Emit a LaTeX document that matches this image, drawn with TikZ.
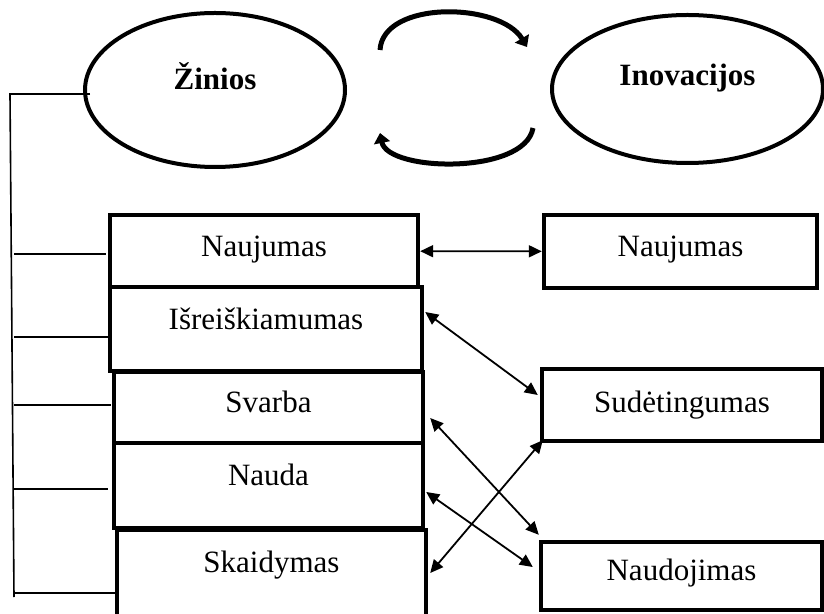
\documentclass[tikz,border=0pt]{standalone}
\usepackage{fontspec}
\setmainfont{Liberation Serif}
\usetikzlibrary{shapes.geometric, arrows.meta, positioning}

\begin{document}
\begin{tikzpicture}[
    x=0.5pt, y=-0.5pt,
    oval/.style = {ellipse, draw, line width=2pt, inner sep=0pt, text height=10pt, font = \fontsize{15.5}{18}\selectfont\bfseries},
    leftbox/.style = {rectangle, draw, line width=2.2pt, inner sep=0pt, minimum width=154.5pt, text height=10pt, font = \fontsize{15.5}{18}\selectfont},
    rightbox/.style = {leftbox, minimum width=140pt},
    link/.style = {line width=0.9pt, {Triangle[length=6.5pt,width=6pt]}-{Triangle[length=6.5pt,width=6pt]}},
    turn/.style = {line width=2.5pt, -{Triangle[length=5pt,width=8pt]}},
    branch/.style = {line width=0.8pt}]

    \useasboundingbox (0,0) rectangle (824,614);

    \node[oval, minimum width=130pt, minimum height=77pt, text depth=10pt] (zin) at (215,90) {Žinios};
    \node[oval, minimum width=135.5pt, minimum height=74pt, text depth=13pt] (inov) at (687.5,89) {Inovacijos};

    % cycle between the two ovals
    \coordinate (ctl) at (380,50);
    \coordinate (ctr) at (527,47);
    \coordinate (cbr) at (533,128);
    \coordinate (cbl) at (380,133);
    \draw[turn] (ctl) .. controls (383,0) and (500,2) .. (ctr);
    \draw[turn] (cbr) .. controls (525,175) and (388,172) .. (cbl);

    \node[leftbox, minimum width=154pt, minimum height=36pt, text depth=4pt] (lnauj) at (264,251) {Naujumas};
    \node[leftbox, minimum width=156pt, minimum height=42pt, text depth=9pt] (isr) at (266,329) {Išreiškiamumas};
    \node[leftbox, minimum height=35.5pt, text depth=4.5pt] (svarba) at (268.5,407.5) {Svarba};
    \node[leftbox, minimum height=42.5pt, text depth=10.5pt] (nauda) at (268.5,485.5) {Nauda};
    \node[leftbox, minimum height=60pt, text depth=28pt] (skaid) at (271.5,590) {Skaidymas};

    \node[rightbox, minimum width=136.5pt, minimum height=36.5pt, text depth=4.5pt] (rnauj) at (680.5,251.5) {Naujumas};
    \node[rightbox, minimum height=36pt, text depth=3pt] (sudet) at (682,405) {Sudėtingumas};
    \node[rightbox, minimum width=140.5pt, minimum height=34pt, text depth=6pt] (naudoj) at (681.5,576) {Naudojimas};

    % bracket on the left
    \coordinate (spinetop) at (10,94);
    \coordinate (spinebot) at (14,597);
    \draw[branch] (spinetop) -- (spinebot);
    \draw[branch] ([xshift=3.5pt,yshift=-2pt]zin.west) coordinate (tk) -- (tk -| spinetop) -- +(-1,0);
    \foreach \bx/\sy/\sx in {lnauj/-1.5/-1, isr/-4/2, svarba/1.25/-0.5, nauda/-1.75/-2, skaid/-1.5/1.5}
        \draw[branch] ([xshift=\sx pt, yshift=\sy pt]\bx.west) coordinate (tk) -- (tk -| spinebot);

    \draw[link] (lnauj) -- (rnauj);
    \draw[link] ([xshift=0.5pt,yshift=8.5pt]isr.east) -- ([xshift=-1pt,yshift=5pt]sudet.west);
    \draw[link] ([xshift=2.5pt,yshift=-5.25pt]svarba.east) -- ([yshift=2.5pt]naudoj.north west);
    \draw[link] ([xshift=0.5pt,yshift=-3.25pt]nauda.east) -- ([xshift=-3pt,yshift=4.5pt]naudoj.west);
    \draw[link] ([xshift=1pt,yshift=8.5pt]skaid.east) -- ([xshift=1.5pt,yshift=1.5pt]sudet.south west);
\end{tikzpicture}
\end{document}
